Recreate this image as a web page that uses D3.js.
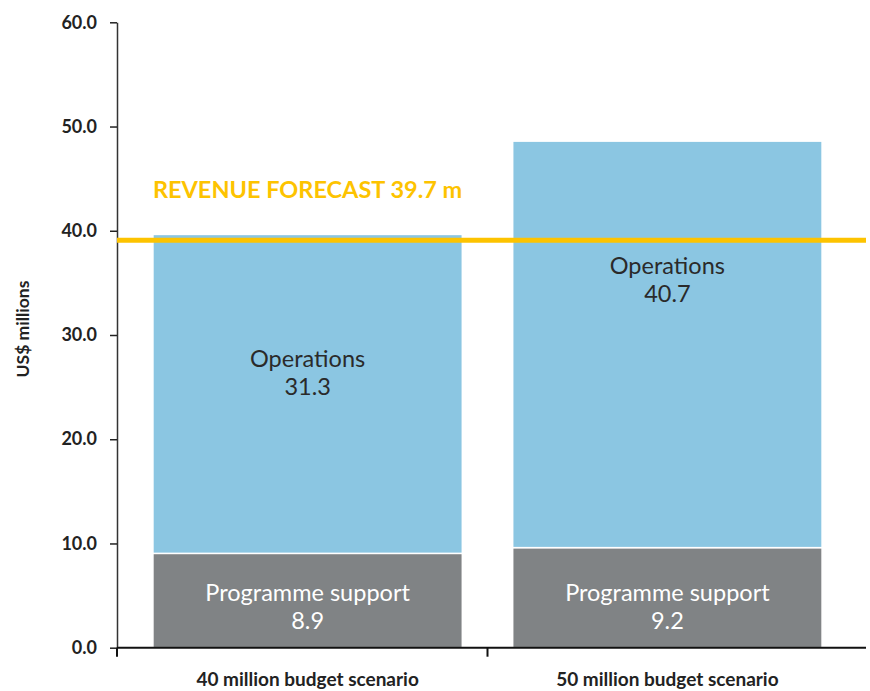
<!DOCTYPE html>
<html>
<head>
<meta charset="utf-8">
<script src="https://cdn.jsdelivr.net/npm/d3@7"></script>
<style>
  html, body { margin: 0; padding: 0; background: #fff; }
  text { font-family: Lato, "Open Sans", sans-serif; }
</style>
</head>
<body>
<div id="chart"></div>
<script>
// categories (x axis)
const categories = ['40 million budget scenario', '50 million budget scenario'];
// segment heights as drawn in the picture (US$ millions)
const programmeSupport = [9.05, 9.6];
const operations = [30.6, 39.0];
// labels printed inside the segments
const programmeLabels = ['8.9', '9.2'];
const operationsLabels = ['31.3', '40.7'];
// revenue line (drawn position) and its caption
const revenueForecast = 39.1;
const revenueCaption = 'REVENUE FORECAST 39.7 m';
// y ticks
const yTicks = [0, 10, 20, 30, 40, 50, 60];

const width = 870, height = 691;
const margin = { top: 22.3, right: 4, bottom: 43.3, left: 117 };

const svg = d3.select('#chart').append('svg')
  .attr('width', width)
  .attr('height', height);

// 比例尺
const y = d3.scaleLinear()
  .domain([0, 60])
  .range([height - margin.bottom, margin.top]);

const x = d3.scaleBand()
  .domain(categories)
  .range([113, 862])
  .paddingInner(0.14)
  .paddingOuter(0.111);

const colors = { programme: '#808385', operations: '#8bc6e2' };

const rows = categories.map((c, i) => ({
  category: c,
  programme: programmeSupport[i],
  operations: operations[i],
  programmeLabel: programmeLabels[i],
  operationsLabel: operationsLabels[i]
}));

const stack = d3.stack().keys(['programme', 'operations']);
const series = stack(rows);

// bars
svg.append('g')
  .selectAll('g')
  .data(series)
  .join('g')
  .attr('fill', d => colors[d.key])
  .selectAll('rect')
  .data(d => d)
  .join('rect')
  .attr('x', d => x(d.data.category))
  .attr('width', x.bandwidth())
  .attr('y', d => y(d[1]))
  .attr('height', d => y(d[0]) - y(d[1]))
  .attr('stroke', '#fff')
  .attr('stroke-width', 1.5);

// segment labels
const labels = svg.append('g').attr('text-anchor', 'middle').style('font-size', '23.5px');

rows.forEach((r, i) => {
  const cx = x(r.category) + x.bandwidth() / 2;
  const topOps = y(r.programme + r.operations);
  labels.append('text')
    .attr('x', cx).attr('y', topOps + 133)
    .attr('fill', '#2a2a2a')
    .text('Operations');
  labels.append('text')
    .attr('x', cx).attr('y', topOps + 161)
    .attr('fill', '#2a2a2a')
    .text(r.operationsLabel);

  labels.append('text')
    .attr('x', cx).attr('y', y(0) - 47)
    .attr('fill', '#fff')
    .text('Programme support');
  labels.append('text')
    .attr('x', cx).attr('y', y(0) - 19)
    .attr('fill', '#fff')
    .text(r.programmeLabel);
});

// y axis
const yAxisGroup = svg.append('g')
  .attr('transform', `translate(${margin.left},0)`)
  .call(d3.axisLeft(y)
    .tickValues(yTicks)
    .tickFormat(d3.format('.1f'))
    .tickSize(7)
    .tickPadding(13)
    .tickSizeOuter(0));
yAxisGroup.select('.domain').attr('stroke', '#333').attr('stroke-width', 1.5);
yAxisGroup.selectAll('line').attr('stroke', '#222').attr('stroke-width', 1.5);
yAxisGroup.selectAll('text')
  .attr('fill', '#222')
  .style('font-family', 'Lato, sans-serif')
  .style('font-size', '18px')
  .style('font-weight', 700);

// y title
svg.append('text')
  .attr('transform', `translate(23,329) rotate(-90)`)
  .attr('text-anchor', 'middle')
  .attr('dy', '0.35em')
  .attr('fill', '#222')
  .style('font-size', '17.5px')
  .style('font-weight', 700)
  .text('US$ millions');

// x axis line and ticks at band boundaries
const xAxisGroup = svg.append('g');
xAxisGroup.append('line')
  .attr('x1', margin.left).attr('x2', width - margin.right)
  .attr('y1', y(0)).attr('y2', y(0))
  .attr('stroke', '#111').attr('stroke-width', 2);
const boundaries = [margin.left, (x(categories[0]) + x.bandwidth() + x(categories[1])) / 2];
xAxisGroup.selectAll('.tick')
  .data(boundaries)
  .join('line')
  .attr('x1', d => d).attr('x2', d => d)
  .attr('y1', y(0)).attr('y2', y(0) + 9)
  .attr('stroke', '#111').attr('stroke-width', 2);

xAxisGroup.selectAll('.cat')
  .data(categories)
  .join('text')
  .attr('x', d => x(d) + x.bandwidth() / 2)
  .attr('y', y(0) + 38)
  .attr('text-anchor', 'middle')
  .attr('fill', '#222')
  .style('font-size', '19px')
  .style('font-weight', 700)
  .text(d => d);

// revenue forecast line
svg.append('line')
  .attr('x1', margin.left).attr('x2', width - margin.right)
  .attr('y1', y(revenueForecast)).attr('y2', y(revenueForecast))
  .attr('stroke', '#fdc300')
  .attr('stroke-width', 5);

svg.append('text')
  .attr('x', x(categories[0]))
  .attr('y', y(revenueForecast) - 42)
  .attr('fill', '#fdc300')
  .style('font-size', '23.5px')
  .style('font-weight', 700)
  .text(revenueCaption);
</script>
</body>
</html>
